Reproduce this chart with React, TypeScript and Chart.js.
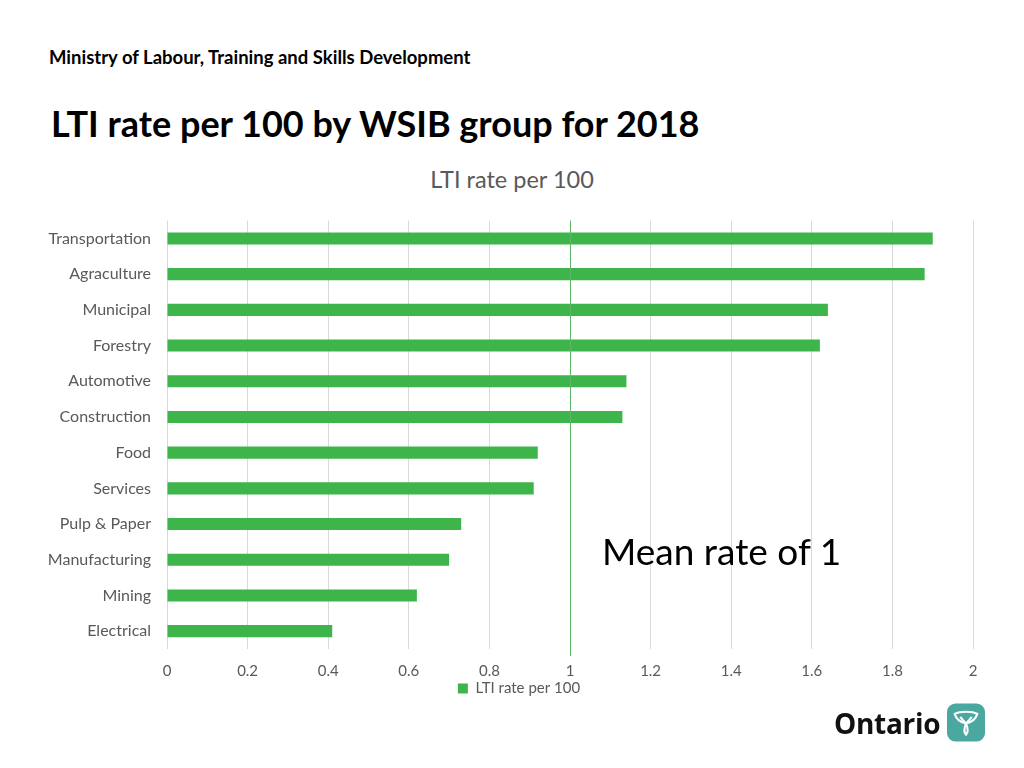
import React, { useEffect, useRef } from "react";
import { Chart, registerables } from "chart.js";

Chart.register(...registerables);

const categories = [
  "Transportation",
  "Agraculture",
  "Municipal",
  "Forestry",
  "Automotive",
  "Construction",
  "Food",
  "Services",
  "Pulp & Paper",
  "Manufacturing",
  "Mining",
  "Electrical",
];
const ltiRates = [1.9, 1.88, 1.64, 1.62, 1.14, 1.13, 0.92, 0.91, 0.73, 0.7, 0.62, 0.41];
const meanRate = 1;
const seriesLabel = "LTI rate per 100";

const FONT = "Lato, 'Open Sans', sans-serif";
const GREEN = "#3DB54A";

const meanLinePlugin = {
  id: "meanLine",
  afterDatasetsDraw(chart: any) {
    const x = chart.scales.x.getPixelForValue(meanRate);
    const { top, bottom } = chart.chartArea;
    const ctx = chart.ctx;
    ctx.save();
    ctx.strokeStyle = "#5DB865";
    ctx.lineWidth = 1;
    ctx.beginPath();
    ctx.moveTo(Math.round(x) + 0.5, top);
    ctx.lineTo(Math.round(x) + 0.5, bottom + 7);
    ctx.stroke();
    ctx.restore();
  },
};

const CANVAS_TOP = 195;
const CANVAS_H = 511;

function ChartBox() {
  const ref = useRef<HTMLCanvasElement>(null);
  useEffect(() => {
    if (!ref.current) return;
    const chart = new Chart(ref.current, {
      type: "bar",
      data: {
        labels: categories,
        datasets: [
          {
            label: seriesLabel,
            data: ltiRates,
            backgroundColor: GREEN,
            borderWidth: 0,
            categoryPercentage: 1,
            barPercentage: 0.34,
            yAxisID: "y",
          },
        ],
      },
      plugins: [meanLinePlugin],
      options: {
        indexAxis: "y",
        animation: false,
        responsive: false,
        maintainAspectRatio: false,
        layout: { padding: { left: 14, right: 0, top: 10, bottom: 0 } },
        plugins: {
          title: { display: false },
          legend: {
            display: true,
            position: "bottom",
            labels: {
              color: "#595959",
              font: { family: FONT, size: 15 },
              boxWidth: 10,
              boxHeight: 10,
              padding: 2,
            },
          },
          tooltip: { enabled: false },
        },
        scales: {
          x: {
            min: 0,
            max: 2,
            afterFit: (axis: any) => {
              axis.height = 30;
            },
            ticks: {
              stepSize: 0.2,
              color: "#595959",
              font: { family: FONT, size: 15 },
              padding: 13,
              callback: (v: any) => String(Math.round(Number(v) * 10) / 10),
            },
            grid: { color: "#D9D9D9", drawTicks: false },
            border: { display: false },
          },
          y: {
            afterFit: (axis: any) => {
              axis.width = 153;
            },
            ticks: {
              color: "#595959",
              font: { family: FONT, size: 16 },
              padding: 16,
            },
            grid: { display: false, drawTicks: false },
            border: { display: false },
          },
          yRight: {
            type: "category",
            labels: categories,
            position: "right",
            afterFit: (axis: any) => {
              axis.width = 51;
            },
            ticks: { display: false },
            grid: { display: false, drawTicks: false },
            border: { display: false },
          },
        },
      },
    });
    return () => chart.destroy();
  }, []);
  return <canvas ref={ref} width={1024} height={CANVAS_H} style={{ width: 1024, height: CANVAS_H, display: "block" }} />;
}

function OntarioLogo() {
  return (
    <div style={{ position: "absolute", left: 834, top: 703, display: "flex", alignItems: "center" }}>
      <span style={{ fontFamily: "'Open Sans', Lato, sans-serif", fontWeight: 700, fontSize: 28, color: "#111", letterSpacing: -0.3 }}>
        Ontario
      </span>
      <svg width={38} height={39} viewBox="0 0 40 40" style={{ marginLeft: 7 }}>
        <rect x={0} y={0} width={40} height={40} rx={9} fill="#4BA8A1" />
        <g fill="none" stroke="#fff" strokeWidth={2.2} strokeLinejoin="round">
          <path d="M8 11 C14 8 26 8 32 11 C30 17 26 20 20 21 C14 20 10 17 8 11 Z" />
          <path d="M20 21 C18 26 17 30 20 33 C23 30 22 26 20 21 Z" />
          <path d="M14 14 C16 17 18 19 20 21 M26 14 C24 17 22 19 20 21" />
        </g>
      </svg>
    </div>
  );
}

export default function App() {
  return (
    <div style={{ position: "fixed", left: 0, top: 0, width: 1024, height: 768, background: "#fff", overflow: "hidden" }}>
      <div
        style={{
          position: "absolute",
          left: 49,
          top: 46,
          fontFamily: FONT,
          fontWeight: 700,
          fontSize: 18.5,
          color: "#000",
          whiteSpace: "nowrap",
        }}
      >
        Ministry of Labour, Training and Skills Development
      </div>
      <div
        style={{
          position: "absolute",
          left: 51,
          top: 101,
          fontFamily: FONT,
          fontWeight: 700,
          fontSize: 36,
          color: "#000",
          whiteSpace: "nowrap",
        }}
      >
        LTI rate per 100 by WSIB group for 2018
      </div>
      <div
        style={{
          position: "absolute",
          left: 0,
          width: 1024,
          top: 165,
          textAlign: "center",
          fontFamily: FONT,
          fontSize: 23.5,
          color: "#595959",
          whiteSpace: "nowrap",
        }}
      >
        {seriesLabel}
      </div>
      <div style={{ position: "absolute", left: 0, top: CANVAS_TOP }}>
        <ChartBox />
      </div>
      <div
        style={{
          position: "absolute",
          left: 602,
          top: 528,
          fontFamily: FONT,
          fontSize: 37,
          color: "#000",
          whiteSpace: "nowrap",
        }}
      >
        Mean rate of 1
      </div>
      <OntarioLogo />
    </div>
  );
}
